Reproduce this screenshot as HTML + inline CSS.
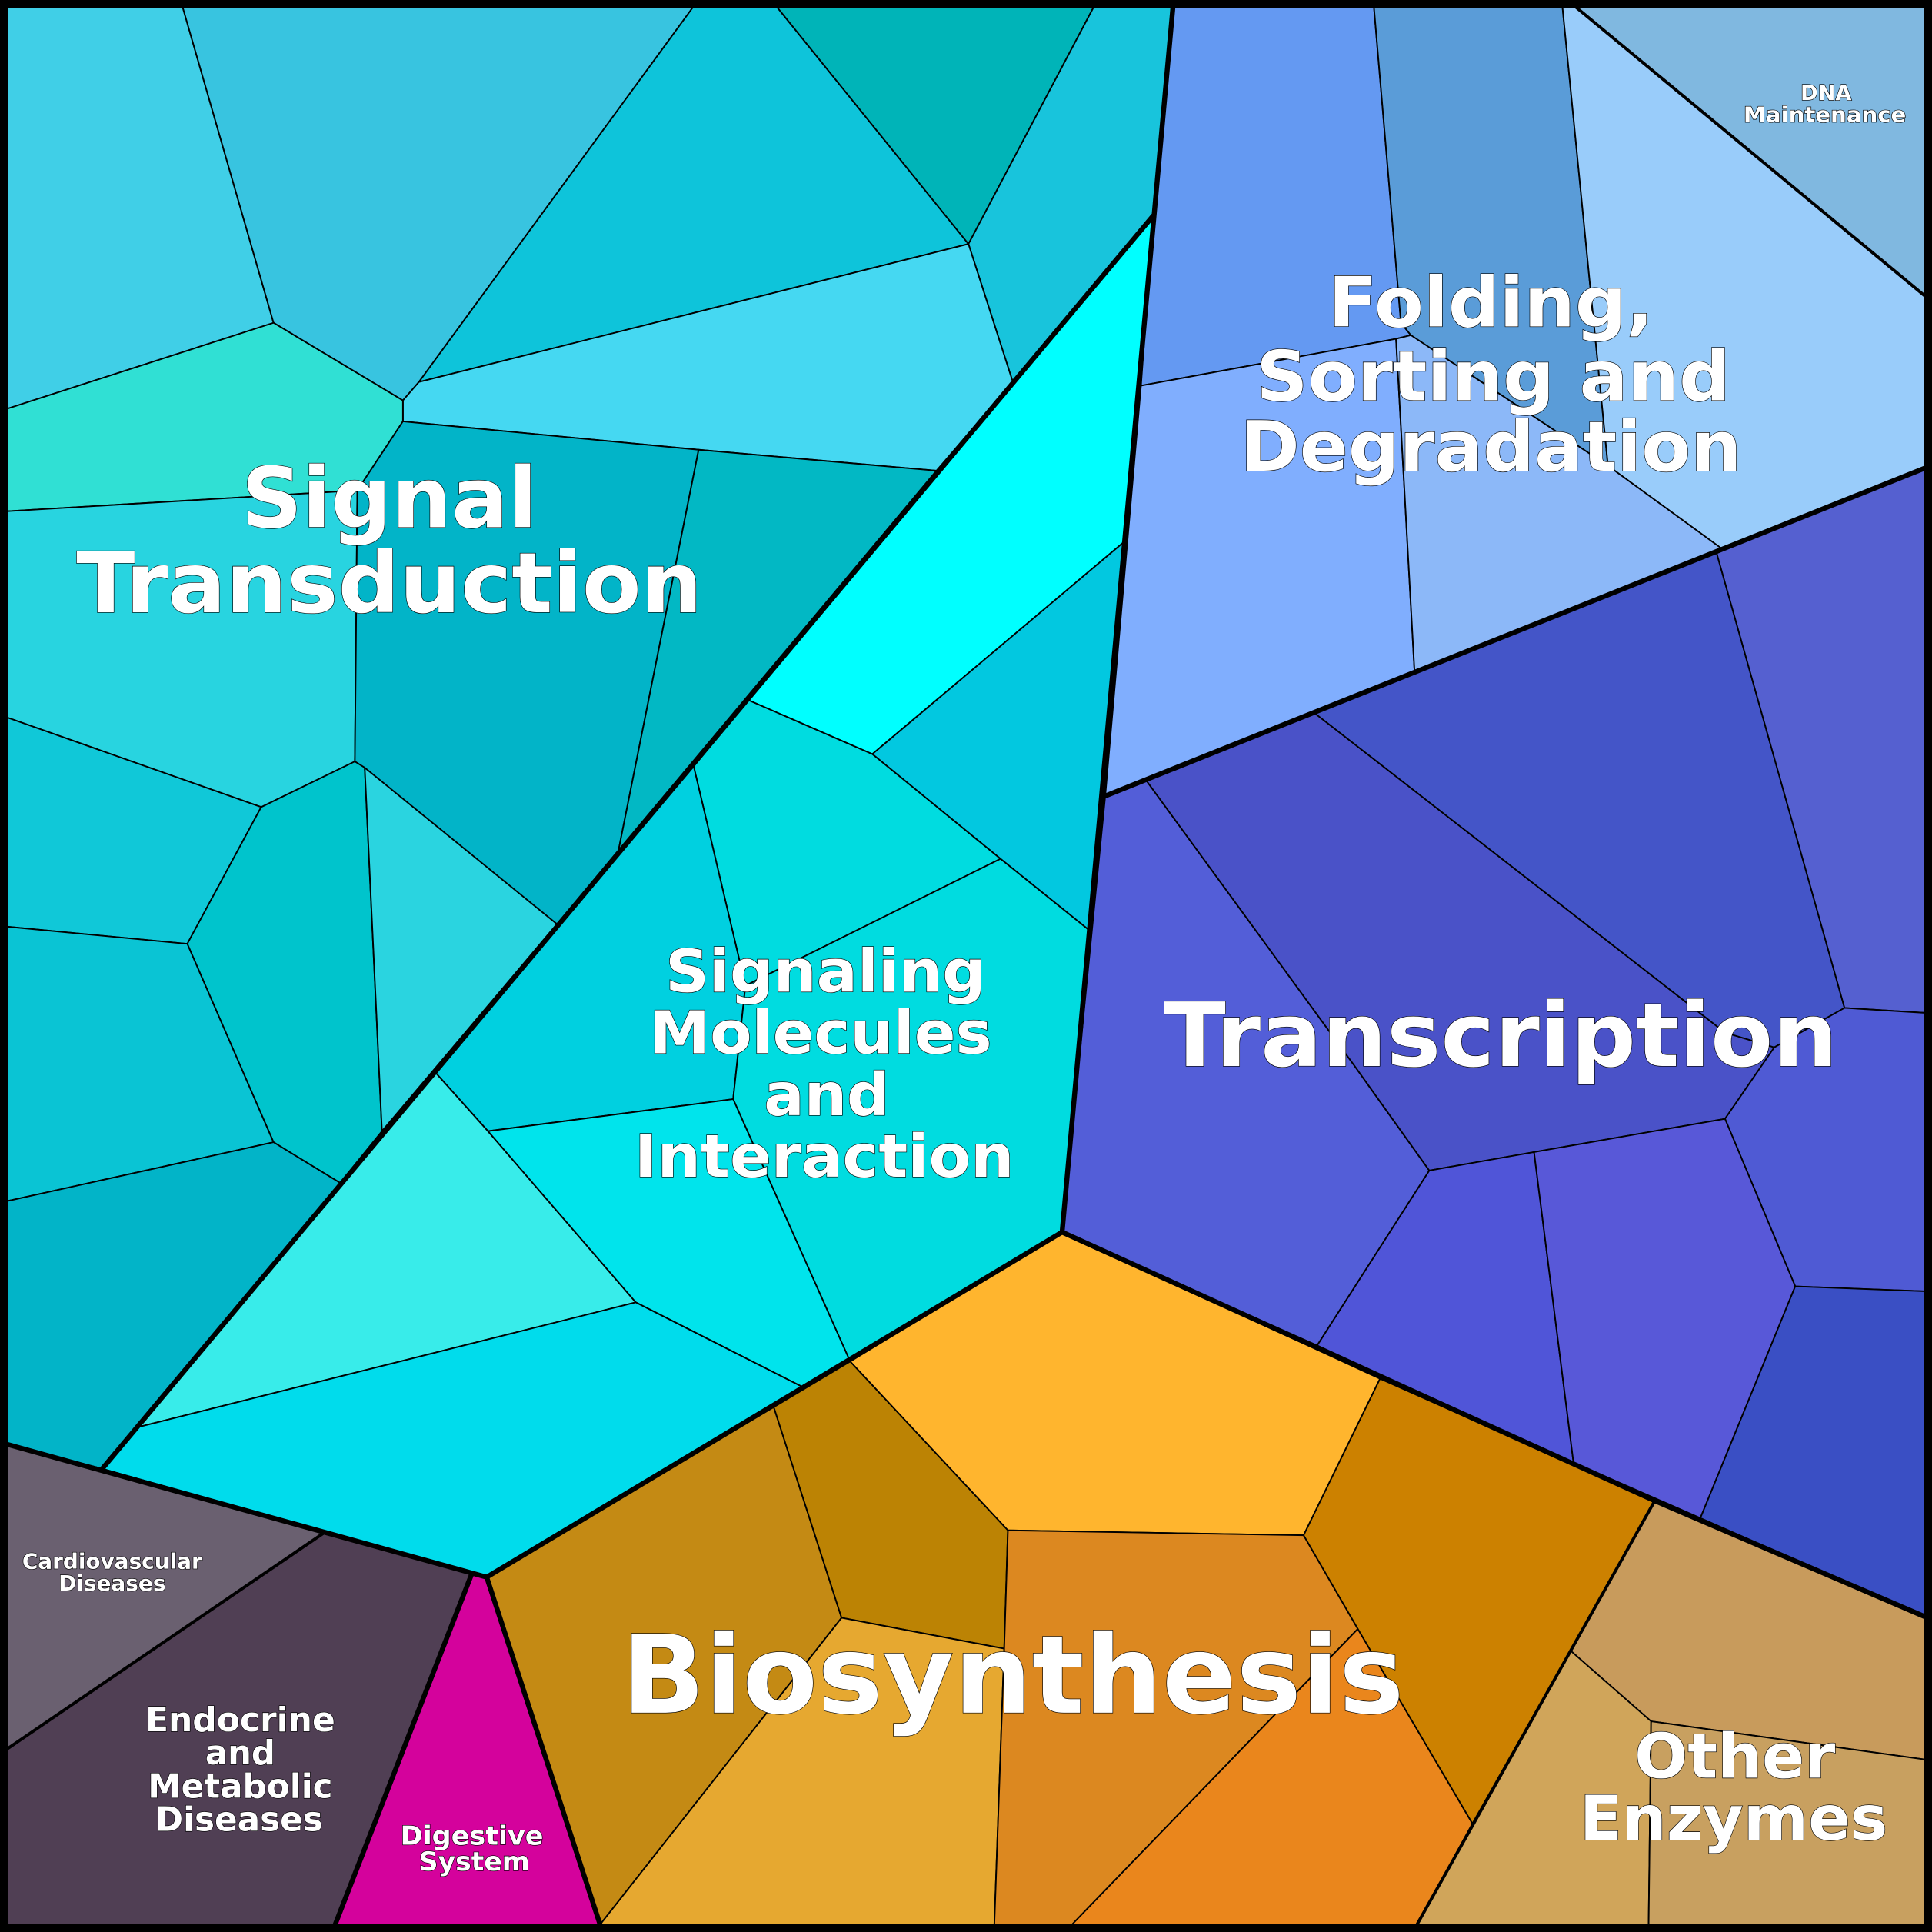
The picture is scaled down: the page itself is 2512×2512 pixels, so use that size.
<!DOCTYPE html>
<html><head><meta charset="utf-8"><style>html,body{margin:0;padding:0;background:#000}svg{display:block}
text{font-family:"DejaVu Sans","Liberation Sans",sans-serif;font-weight:bold;fill:#fff;stroke:#000;stroke-width:0.8;text-anchor:middle;paint-order:stroke}</style></head>
<body>
<svg xmlns="http://www.w3.org/2000/svg" width="2512" height="2512" viewBox="0 0 1568 1568">
<rect x="0" y="0" width="1568" height="1568" fill="#000"/>
<g stroke="#000" stroke-width="1.2" stroke-linejoin="round">
<polygon fill="#40cfe7" points="5,5 148,5 222,262 5,332"/>
<polygon fill="#38c4e0" points="148,5 563,5 340,310 327,325 222,262"/>
<polygon fill="#0ec4da" points="563,5 630,5 786,198 340,310"/>
<polygon fill="#00b4b8" points="630,5 888,5 786,198"/>
<polygon fill="#18c4dc" points="888,5 952,5 936,175 822,310 786,198"/>
<polygon fill="#45d8f2" points="340,310 786,198 822,310 760,382 567,365 327,342 327,325"/>
<polygon fill="#30e0d4" points="5,332 222,262 327,325 327,342 290,398 5,415"/>
<polygon fill="#28d4e0" points="5,415 290,398 288,618 212,655 5,582"/>
<polygon fill="#02b4c8" points="290,398 327,342 567,365 502,690 452,750 288,618"/>
<polygon fill="#02b8c4" points="567,365 760,382 502,690"/>
<polygon fill="#10c8d8" points="5,582 212,655 152,766 5,752"/>
<polygon fill="#00c4cc" points="212,655 288,618 296,623 310,918 276,960 222,927 152,766"/>
<polygon fill="#2ad4e0" points="296,623 452,750 310,918"/>
<polygon fill="#0ac4d4" points="5,752 152,766 222,927 5,975"/>
<polygon fill="#02b4c8" points="5,975 222,927 276,960 83,1192 5,1172"/>
<polygon fill="#00ffff" points="936,175 912,440 708,612 607,568"/>
<polygon fill="#02c8e0" points="912,440 884,755 812,697 708,612"/>
<polygon fill="#00dce0" points="607,568 708,612 812,697 605,800 563,622"/>
<polygon fill="#00d0e0" points="563,622 605,800 595,892 396,918 353,870"/>
<polygon fill="#00dce0" points="812,697 884,755 862,1000 690,1105 595,892 605,800"/>
<polygon fill="#38ecea" points="353,870 396,918 516,1057 113,1158"/>
<polygon fill="#00e4ec" points="396,918 595,892 690,1105 652,1126 516,1057"/>
<polygon fill="#00dcec" points="113,1158 516,1057 652,1126 395,1280 83,1192"/>
<polygon fill="#6499f2" points="952,5 1115,5 1137,262 1145,272 1133,275 926,313 936,175"/>
<polygon fill="#5a9cd8" points="1115,5 1268,5 1305,378 1145,272 1137,262"/>
<polygon fill="#99ccfa" points="1268,5 1278,5 1562,240 1562,380 1397,445 1305,378"/>
<polygon fill="#80b8e0" points="1278,5 1562,5 1562,240"/>
<polygon fill="#80aefe" points="926,313 1133,275 1148,545 897,646"/>
<polygon fill="#8cb8f8" points="1133,275 1145,272 1305,378 1397,445 1148,545"/>
<polygon fill="#535ed8" points="897,646 930,633 1100,866 1160,950 1069,1092 862,1000"/>
<polygon fill="#4a52c8" points="930,633 1066,578 1400,838 1440,850 1400,908 1245,935 1160,950 1100,866"/>
<polygon fill="#4455c8" points="1066,578 1393,448 1497,818 1440,850 1400,838"/>
<polygon fill="#5560d0" points="1393,448 1562,380 1562,822 1497,818"/>
<polygon fill="#4f5ad4" points="1497,818 1562,822 1562,1048 1457,1044 1400,908 1440,850"/>
<polygon fill="#5055d8" points="1160,950 1245,935 1277,1187 1069,1092"/>
<polygon fill="#5858d8" points="1245,935 1400,908 1457,1044 1380,1232 1277,1187"/>
<polygon fill="#3a4fc4" points="1457,1044 1562,1048 1562,1312 1380,1232"/>
<polygon fill="#ffb52e" points="690,1105 862,1000 1120,1119 1058,1246 818,1242"/>
<polygon fill="#c48a14" points="395,1280 628,1142 683,1313 487,1562"/>
<polygon fill="#bc8304" points="628,1142 690,1105 818,1242 815,1338 683,1313"/>
<polygon fill="#e6a830" points="683,1313 815,1338 807,1562 487,1562"/>
<polygon fill="#dc8820" points="818,1242 1058,1246 1102,1322 870,1562 807,1562 815,1338"/>
<polygon fill="#ea861c" points="870,1562 1102,1322 1195,1480 1150,1562"/>
<polygon fill="#cc8100" points="1058,1246 1120,1119 1343,1218 1195,1480 1102,1322"/>
<polygon fill="#c89b5c" points="1343,1218 1562,1312 1562,1428 1340,1397 1275,1340"/>
<polygon fill="#d0a55a" points="1275,1340 1340,1397 1338,1562 1150,1562"/>
<polygon fill="#c8a060" points="1340,1397 1562,1428 1562,1562 1338,1562"/>
<polygon fill="#6a6070" points="5,1172 83,1192 263,1244 5,1420"/>
<polygon fill="#503f54" points="263,1244 383,1277 272,1562 5,1562 5,1420"/>
<polygon fill="#d4029c" points="383,1277 395,1280 487,1562 272,1562"/>
</g>
<g stroke="#000" stroke-width="4" fill="none" stroke-linecap="round">
<line x1="952" y1="5" x2="862" y2="1000"/>
<line x1="936" y1="175" x2="83" y2="1192"/>
<line x1="897" y1="646" x2="1562" y2="380"/>
<line x1="1278" y1="5" x2="1562" y2="240" stroke-width="2.5"/>
<polyline points="395,1280 862,1000 1343,1218 1562,1312"/>
<line x1="1343" y1="1218" x2="1150" y2="1562" stroke-width="2.5"/>
<polyline points="5,1172 395,1280 487,1562"/>
<line x1="383" y1="1277" x2="272" y2="1562"/>
<line x1="263" y1="1244" x2="5" y2="1420" stroke-width="2.5"/>
</g>
<rect x="3" y="3" width="1562" height="1562" fill="none" stroke="#000" stroke-width="7"/>
<text x="316" y="428" font-size="68" textLength="240" lengthAdjust="spacingAndGlyphs">Signal</text>
<text x="316" y="497" font-size="68" textLength="508" lengthAdjust="spacingAndGlyphs">Transduction</text>
<text x="1210" y="265" font-size="56" textLength="264" lengthAdjust="spacingAndGlyphs">Folding,</text>
<text x="1212" y="325" font-size="56" textLength="385" lengthAdjust="spacingAndGlyphs">Sorting and</text>
<text x="1210" y="382" font-size="56" textLength="407" lengthAdjust="spacingAndGlyphs">Degradation</text>
<text x="1482" y="81" font-size="17" stroke-width="0.4">DNA</text>
<text x="1481" y="99" font-size="17" stroke-width="0.4" textLength="132" lengthAdjust="spacingAndGlyphs">Maintenance</text>
<text x="670" y="805" font-size="48" textLength="260" lengthAdjust="spacingAndGlyphs">Signaling</text>
<text x="666" y="855" font-size="48" textLength="278" lengthAdjust="spacingAndGlyphs">Molecules</text>
<text x="671" y="905" font-size="48" textLength="102" lengthAdjust="spacingAndGlyphs">and</text>
<text x="669" y="955" font-size="48" textLength="308" lengthAdjust="spacingAndGlyphs">Interaction</text>
<text x="1218" y="865" font-size="72" textLength="547" lengthAdjust="spacingAndGlyphs">Transcription</text>
<text x="822" y="1390" font-size="88" textLength="635" lengthAdjust="spacingAndGlyphs">Biosynthesis</text>
<text x="1408" y="1443" font-size="50" textLength="163" lengthAdjust="spacingAndGlyphs">Other</text>
<text x="1407" y="1493" font-size="50" textLength="250" lengthAdjust="spacingAndGlyphs">Enzymes</text>
<text x="91" y="1273" font-size="17" stroke-width="0.4" textLength="146" lengthAdjust="spacingAndGlyphs">Cardiovascular</text>
<text x="91" y="1291" font-size="17" stroke-width="0.4" textLength="87" lengthAdjust="spacingAndGlyphs">Diseases</text>
<text x="195" y="1405" font-size="27" stroke-width="0.5" textLength="154" lengthAdjust="spacingAndGlyphs">Endocrine</text>
<text x="195" y="1432" font-size="27" stroke-width="0.5">and</text>
<text x="195" y="1459" font-size="27" stroke-width="0.5" textLength="150" lengthAdjust="spacingAndGlyphs">Metabolic</text>
<text x="194" y="1486" font-size="27" stroke-width="0.5" textLength="136" lengthAdjust="spacingAndGlyphs">Diseases</text>
<text x="383" y="1497" font-size="21" stroke-width="0.4" textLength="116" lengthAdjust="spacingAndGlyphs">Digestive</text>
<text x="385" y="1518" font-size="21" stroke-width="0.4" textLength="90" lengthAdjust="spacingAndGlyphs">System</text>
</svg>
</body></html>
